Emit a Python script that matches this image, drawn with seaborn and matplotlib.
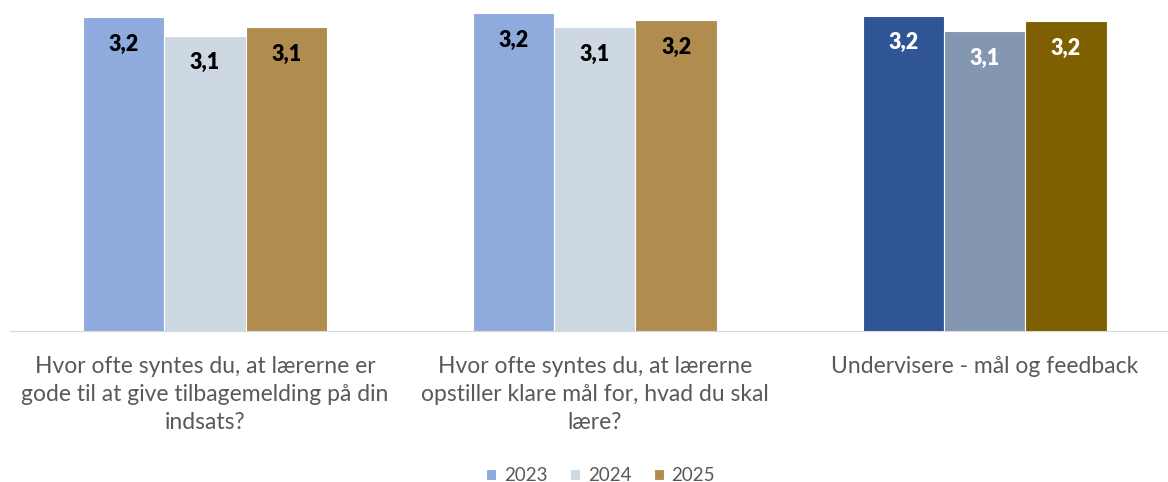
import matplotlib
matplotlib.use("Agg")
import matplotlib.pyplot as plt
import seaborn as sns
import pandas as pd

categories = [
    "Hvor ofte syntes du, at lærerne er\ngode til at give tilbagemelding på din\nindsats?",
    "Hvor ofte syntes du, at lærerne\nopstiller klare mål for, hvad du skal\nlære?",
    "Undervisere - mål og feedback",
]
years = ["2023", "2024", "2025"]
v2023 = [3.21, 3.24, 3.22]
v2024 = [3.08, 3.14, 3.11]
v2025 = [3.14, 3.19, 3.18]

colors = ["#8FAADC", "#CDD8E3", "#B08C4F"]
colors_total = ["#2F5597", "#8497B0", "#7F6000"]
label_colors = ["#000000", "#000000", "#FFFFFF"]

rows = []
for year, vals in zip(years, [v2023, v2024, v2025]):
    for cat, v in zip(categories, vals):
        rows.append({"cat": cat, "year": year, "value": v})
df = pd.DataFrame(rows)

sns.set_style("white")
plt.rcParams["font.family"] = ["Lato", "DejaVu Sans"]

fig = plt.figure(figsize=(11.68, 4.82), dpi=100)
ax = fig.add_axes([0.0086, 0.3133, 0.9914, 0.6776])

sns.barplot(data=df, x="cat", y="value", hue="year", palette=colors,
            width=0.625, saturation=1, ax=ax, edgecolor="white", linewidth=0.8)

# last group uses darker colours
for i, cont in enumerate(ax.containers):
    cont[2].set_facecolor(colors_total[i])

for cont in ax.containers:
    for j, bar in enumerate(cont):
        h = bar.get_height()
        txt = f"{h:.1f}".replace(".", ",")
        ax.annotate(txt, (bar.get_x() + bar.get_width() / 2, h),
                    xytext=(0, -19.5), textcoords="offset points",
                    ha="center", va="center", fontsize=15.5,
                    fontweight="heavy", color=label_colors[j])

ax.set_ylim(1, 3.3)
ax.set_xlim(-0.5, 2.47)
ax.set_xlabel("")
ax.set_ylabel("")
ax.set_yticks([])
for s in ["top", "left", "right"]:
    ax.spines[s].set_visible(False)
ax.spines["bottom"].set_color("#D9D9D9")
ax.tick_params(axis="x", length=0, pad=18, labelsize=16.5, colors="#595959")
for t in ax.get_xticklabels():
    t.set_linespacing(1.4)

ax.legend(loc="lower center", bbox_to_anchor=(0.51, -0.52), ncol=3,
          frameon=False, fontsize=13.5, labelcolor="#595959",
          handlelength=0.55, handleheight=0.55, handletextpad=0.4,
          columnspacing=1.2)

fig.savefig("out.png", dpi=100)
